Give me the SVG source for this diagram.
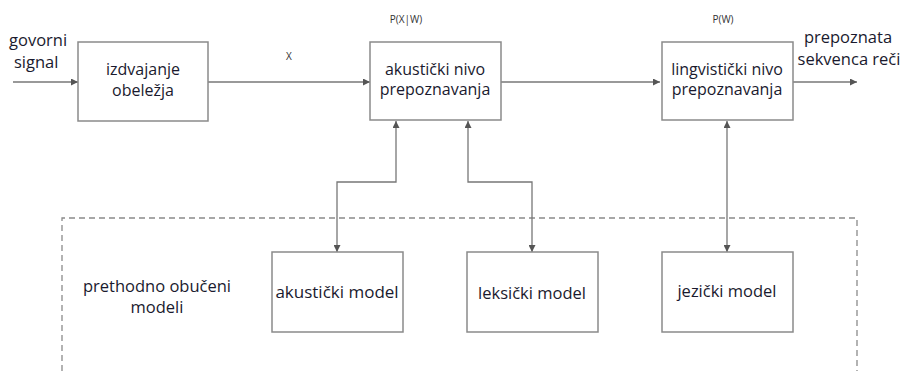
<svg xmlns="http://www.w3.org/2000/svg" width="904" height="371" viewBox="0 0 904 371">
<style>
.box{fill:#fff;stroke:#8a8a8a;stroke-width:1.5}
.t{font-family:"Open Sans","Noto Sans",sans-serif;font-size:16px;fill:#1a1a2e;text-anchor:middle}
.l{font-family:"Open Sans","Noto Sans",sans-serif;font-size:16.5px;fill:#1a1a2e}
.s{font-family:"Open Sans","Noto Sans",sans-serif;font-size:10px;fill:#333;text-anchor:middle}
.c{fill:none;stroke:#777;stroke-width:1.3}
</style>
<defs>
<marker id="ah" viewBox="0 0 8 8" refX="8" refY="4" markerWidth="7" markerHeight="7" markerUnits="userSpaceOnUse" orient="auto-start-reverse">
<path d="M0,0 L8,4 L0,8 z" fill="#555"/>
</marker>
</defs>
<rect width="904" height="371" fill="#fff"/>
<path d="M62,371 V218 H857 V371" fill="none" stroke="#8a8a8a" stroke-width="1.3" stroke-dasharray="6,4"/>
<g id="connectors">
<line class="c" x1="13" y1="82" x2="78" y2="82" marker-end="url(#ah)"/>
<line class="c" x1="208" y1="82" x2="370" y2="82" marker-end="url(#ah)"/>
<line class="c" x1="501" y1="82" x2="660" y2="82" marker-end="url(#ah)"/>
<line class="c" x1="793" y1="82" x2="857" y2="82" marker-end="url(#ah)"/>
<path class="c" d="M396,121 V182 H337 V252" marker-start="url(#ah)" marker-end="url(#ah)"/>
<path class="c" d="M468,121 V182 H532 V252" marker-start="url(#ah)" marker-end="url(#ah)"/>
<path class="c" d="M727,121 V252" marker-start="url(#ah)" marker-end="url(#ah)"/>
</g>
<text class="l" x="9" y="46">govorni</text>
<text class="l" x="14" y="68">signal</text>
<text class="s" x="289" y="60">X</text>
<text class="s" x="406" y="23">P(X|W)</text>
<text class="s" x="723" y="23">P(W)</text>
<text class="l" x="848" y="43" text-anchor="middle">prepoznata</text>
<text class="l" x="849" y="65" text-anchor="middle">sekvenca reči</text>
<g id="izdvajanje">
<rect class="box" x="78" y="42" width="130" height="79"/>
<text class="t" x="143" y="75">izdvajanje</text>
<text class="t" x="143" y="96">obeležja</text>
</g>
<g id="akusticki-nivo">
<rect class="box" x="370" y="42" width="131" height="78"/>
<text class="t" x="435" y="75">akustički nivo</text>
<text class="t" x="435" y="95">prepoznavanja</text>
</g>
<g id="lingvisticki-nivo">
<rect class="box" x="662" y="42" width="131" height="78"/>
<text class="t" x="727" y="75">lingvistički nivo</text>
<text class="t" x="727" y="95">prepoznavanja</text>
</g>
<g id="modeli-label">
<text class="t" x="157" y="292" style="font-size:16.5px">prethodno obučeni</text>
<text class="t" x="157" y="313" style="font-size:16.5px">modeli</text>
</g>
<g id="akusticki-model">
<rect class="box" x="272" y="252" width="131" height="80"/>
<text class="t" x="337" y="298" style="font-size:17px">akustički model</text>
</g>
<g id="leksicki-model">
<rect class="box" x="467" y="252" width="131" height="80"/>
<text class="t" x="532" y="299" style="font-size:16.5px">leksički model</text>
</g>
<g id="jezicki-model">
<rect class="box" x="662" y="252" width="131" height="80"/>
<text class="t" x="727" y="297" style="font-size:16.5px">jezički model</text>
</g>
</svg>
